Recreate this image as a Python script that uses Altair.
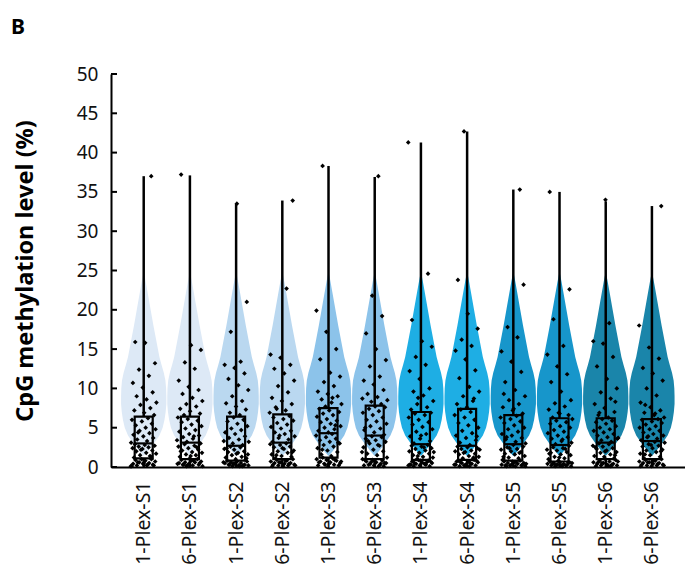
import altair as alt
import pandas as pd

names = ["1-Plex-S1", "6-Plex-S1", "1-Plex-S2", "6-Plex-S2", "1-Plex-S3", "6-Plex-S3",
         "1-Plex-S4", "6-Plex-S4", "1-Plex-S5", "6-Plex-S5", "1-Plex-S6", "6-Plex-S6"]
colors = ["#dde9f6", "#dde9f6", "#bad8f0", "#bad8f0", "#8cc3ea", "#8cc3ea",
          "#1eaee4", "#1eaee4", "#1796cb", "#1796cb", "#1a85aa", "#1a85aa"]

box_min = [0.0] * 12
box_q1 = [1.1, 1.0, 0.8, 1.0, 1.2, 1.0, 0.9, 0.9, 0.8, 0.7, 1.0, 1.0]
box_med = [3.0, 3.1, 2.7, 3.1, 4.3, 4.0, 2.9, 2.7, 2.9, 2.8, 3.1, 3.3]
box_q3 = [6.4, 6.4, 6.4, 6.7, 7.5, 7.8, 7.0, 7.4, 6.6, 6.2, 6.2, 6.1]
box_max = [37.0, 37.1, 33.5, 33.9, 38.3, 36.9, 41.3, 42.7, 35.3, 35.0, 33.8, 33.2]

# violin outline (value level, half-width in category units), same shape for each sample
violin_y = [1.4, 2.0, 3.0, 4.0, 5.0, 6.0, 7.0, 8.0, 9.0, 10.0, 11.0, 12.0, 13.0, 14.0,
            16.0, 18.0, 20.0, 22.0, 23.5, 24.9]
violin_w = [0.0, 0.09, 0.22, 0.34, 0.41, 0.45, 0.475, 0.49, 0.49, 0.485, 0.47, 0.435,
            0.385, 0.34, 0.275, 0.21, 0.15, 0.09, 0.045, 0.0]

pts = [
    [0.1, 0.2, 0.2, 0.3, 0.4, 0.4, 0.5, 0.6, 0.7, 0.8, 0.9, 1.0, 1.0, 0.1, 0.3, 0.6, 0.2, 0.5,
     1.2, 1.4, 1.5, 1.7, 1.8, 2.0, 2.1, 2.3, 2.4, 2.5, 2.6, 2.7, 2.8, 2.9, 1.3, 2.2,
     3.1, 3.3, 3.5, 3.7, 3.9, 4.1, 4.3, 4.6, 4.8, 5.0, 5.3, 5.5, 5.8, 6.0, 6.2, 4.4,
     6.6, 6.9, 7.2, 7.5, 7.9, 8.2, 8.6, 9.0, 9.5, 10.1, 10.7, 11.6, 12.4, 13.2, 15.8, 15.9, 37.0],
    [0.1, 0.1, 0.2, 0.3, 0.3, 0.4, 0.5, 0.6, 0.6, 0.7, 0.8, 0.9, 1.0, 0.2, 0.4, 0.8, 0.3, 0.5,
     1.1, 1.3, 1.5, 1.6, 1.8, 1.9, 2.1, 2.2, 2.4, 2.6, 2.7, 2.9, 3.0, 1.4, 2.0, 2.5,
     3.2, 3.4, 3.6, 3.8, 4.0, 4.2, 4.5, 4.7, 4.9, 5.2, 5.4, 5.7, 5.9, 6.1, 6.3, 3.9,
     6.6, 6.8, 7.1, 7.4, 7.7, 8.0, 8.4, 8.8, 9.3, 9.8, 10.2, 11.0, 12.5, 13.3, 14.9, 15.5, 37.2],
    [0.1, 0.1, 0.2, 0.2, 0.3, 0.3, 0.4, 0.5, 0.5, 0.6, 0.7, 0.7, 0.8, 0.2, 0.4, 0.6, 0.1, 0.3,
     0.9, 1.0, 1.2, 1.3, 1.5, 1.6, 1.8, 1.9, 2.0, 2.2, 2.3, 2.5, 2.6, 1.1, 1.7, 2.4,
     2.8, 3.0, 3.2, 3.5, 3.7, 3.9, 4.2, 4.4, 4.7, 4.9, 5.2, 5.5, 5.8, 6.0, 6.3, 3.3,
     6.6, 6.9, 7.3, 7.7, 8.1, 8.4, 9.0, 9.8, 10.4, 11.2, 11.9, 12.6, 13.0, 13.4, 17.2, 21.0, 33.5],
    [0.1, 0.2, 0.2, 0.3, 0.4, 0.5, 0.5, 0.6, 0.7, 0.8, 0.9, 1.0, 0.1, 0.3, 0.4, 0.6, 0.2, 0.8,
     1.1, 1.3, 1.4, 1.6, 1.8, 2.0, 2.1, 2.3, 2.5, 2.6, 2.8, 2.9, 3.0, 1.5, 1.9, 2.4,
     3.2, 3.5, 3.7, 3.9, 4.2, 4.4, 4.6, 4.9, 5.1, 5.4, 5.6, 5.9, 6.1, 6.3, 6.5, 4.0,
     6.9, 7.2, 7.6, 8.0, 8.4, 8.8, 9.5, 10.3, 11.0, 11.9, 12.5, 13.0, 13.9, 14.3, 22.7, 7.4, 33.9],
    [0.1, 0.2, 0.3, 0.4, 0.5, 0.6, 0.7, 0.8, 0.9, 1.0, 1.1, 1.2, 0.2, 0.4, 0.6, 0.9, 0.3, 0.7,
     1.4, 1.6, 1.9, 2.1, 2.4, 2.6, 2.8, 3.0, 3.2, 3.4, 3.6, 3.8, 4.0, 4.2, 2.2, 3.1,
     4.4, 4.6, 4.8, 5.0, 5.2, 5.5, 5.7, 5.9, 6.1, 6.4, 6.6, 6.8, 7.0, 7.2, 7.4, 5.3,
     7.7, 8.0, 8.2, 8.6, 9.0, 9.3, 9.6, 10.3, 10.8, 11.5, 12.0, 13.7, 15.0, 17.2, 19.9, 8.8, 38.3],
    [0.1, 0.2, 0.2, 0.3, 0.4, 0.5, 0.6, 0.7, 0.8, 0.9, 1.0, 0.1, 0.3, 0.5, 0.7, 0.9, 0.4, 0.6,
     1.2, 1.5, 1.7, 2.0, 2.2, 2.5, 2.7, 3.0, 3.2, 3.4, 3.6, 3.8, 3.9, 1.9, 2.8, 3.3,
     4.1, 4.4, 4.7, 4.9, 5.2, 5.5, 5.8, 6.0, 6.3, 6.6, 6.9, 7.1, 7.4, 7.6, 7.7, 5.0,
     8.0, 8.3, 8.5, 8.9, 9.3, 9.8, 10.5, 11.0, 11.5, 12.8, 13.6, 15.0, 17.0, 19.2, 21.8, 8.7, 37.0],
    [0.1, 0.1, 0.2, 0.3, 0.3, 0.4, 0.5, 0.6, 0.7, 0.8, 0.9, 0.2, 0.4, 0.5, 0.7, 0.8, 0.3, 0.6,
     1.0, 1.2, 1.3, 1.5, 1.7, 1.8, 2.0, 2.1, 2.3, 2.4, 2.6, 2.7, 2.8, 1.4, 1.9, 2.5,
     3.0, 3.3, 3.6, 3.9, 4.2, 4.5, 4.8, 5.1, 5.4, 5.7, 6.0, 6.3, 6.6, 6.8, 6.9, 4.0,
     7.3, 7.6, 8.0, 8.4, 9.1, 9.6, 10.0, 11.2, 12.2, 13.0, 14.0, 15.3, 16.0, 18.7, 24.6, 8.8, 41.3],
    [0.1, 0.1, 0.2, 0.2, 0.3, 0.4, 0.5, 0.6, 0.7, 0.8, 0.9, 0.2, 0.3, 0.5, 0.6, 0.8, 0.4, 0.7,
     1.0, 1.1, 1.3, 1.4, 1.6, 1.7, 1.9, 2.0, 2.1, 2.3, 2.4, 2.5, 2.6, 1.2, 1.8, 2.2,
     2.8, 3.1, 3.4, 3.7, 4.0, 4.3, 4.6, 5.0, 5.3, 5.6, 6.0, 6.3, 6.6, 7.0, 7.3, 3.9,
     7.6, 8.0, 8.4, 9.0, 9.6, 10.2, 11.3, 12.3, 13.7, 14.8, 15.4, 16.2, 17.6, 19.5, 23.8, 8.7, 42.7],
    [0.1, 0.1, 0.2, 0.2, 0.3, 0.3, 0.4, 0.5, 0.5, 0.6, 0.7, 0.8, 0.2, 0.4, 0.6, 0.1, 0.3, 0.7,
     0.9, 1.1, 1.2, 1.4, 1.6, 1.7, 1.9, 2.0, 2.2, 2.3, 2.5, 2.6, 2.8, 1.3, 1.8, 2.4,
     3.0, 3.2, 3.5, 3.7, 4.0, 4.2, 4.5, 4.8, 5.0, 5.3, 5.6, 5.8, 6.1, 6.3, 6.5, 3.8,
     6.8, 7.2, 7.6, 8.0, 8.5, 9.0, 9.8, 10.8, 12.1, 13.4, 14.7, 16.5, 17.8, 23.2, 7.4, 9.3, 35.3],
    [0.1, 0.1, 0.2, 0.2, 0.3, 0.3, 0.4, 0.4, 0.5, 0.6, 0.6, 0.7, 0.2, 0.3, 0.5, 0.1, 0.4, 0.6,
     0.8, 1.0, 1.1, 1.3, 1.5, 1.6, 1.8, 1.9, 2.1, 2.2, 2.4, 2.5, 2.7, 1.2, 1.7, 2.3,
     2.9, 3.1, 3.3, 3.6, 3.8, 4.0, 4.3, 4.5, 4.7, 5.0, 5.2, 5.5, 5.7, 5.9, 6.1, 3.5,
     6.3, 6.6, 6.9, 7.3, 7.7, 8.1, 8.5, 9.6, 10.8, 11.8, 12.8, 14.3, 15.4, 18.8, 22.6, 6.8, 35.0],
    [0.1, 0.2, 0.2, 0.3, 0.4, 0.4, 0.5, 0.6, 0.7, 0.8, 0.9, 1.0, 0.1, 0.3, 0.5, 0.7, 0.2, 0.6,
     1.1, 1.3, 1.4, 1.6, 1.8, 1.9, 2.1, 2.3, 2.4, 2.6, 2.7, 2.9, 3.0, 1.5, 2.0, 2.5,
     3.2, 3.4, 3.6, 3.8, 4.0, 4.2, 4.4, 4.6, 4.8, 5.0, 5.2, 5.5, 5.7, 5.9, 6.1, 3.7,
     6.3, 6.6, 7.0, 7.5, 8.0, 8.7, 9.5, 10.0, 11.2, 12.8, 14.0, 15.7, 16.0, 18.3, 6.9, 8.3, 34.0],
    [0.1, 0.2, 0.2, 0.3, 0.4, 0.5, 0.5, 0.6, 0.7, 0.8, 0.9, 1.0, 0.1, 0.3, 0.4, 0.6, 0.2, 0.8,
     1.1, 1.3, 1.5, 1.7, 1.9, 2.1, 2.2, 2.4, 2.6, 2.7, 2.9, 3.1, 3.2, 1.6, 2.0, 2.8,
     3.4, 3.6, 3.8, 4.0, 4.2, 4.4, 4.6, 4.8, 5.0, 5.2, 5.4, 5.6, 5.8, 6.0, 6.1, 3.9,
     6.3, 6.6, 6.9, 7.2, 7.6, 8.2, 9.1, 10.0, 11.0, 11.9, 12.6, 13.8, 15.2, 18.0, 6.8, 7.9, 33.2],
]

y_ticks = [0, 5, 10, 15, 20, 25, 30, 35, 40, 45, 50]

# ---- tables ----
box_df = pd.DataFrame({"idx": list(range(12)), "name": names, "col": colors,
                       "mn": box_min, "q1": box_q1, "med": box_med, "q3": box_q3, "mx": box_max})
vio_rows = []
for i in range(12):
    for yv, wv in zip(violin_y, violin_w):
        vio_rows.append({"idx": i, "col": colors[i], "vy": yv, "w": wv})
vio_df = pd.DataFrame(vio_rows)
pt_rows = []
for i in range(12):
    for k, v in enumerate(pts[i]):
        pt_rows.append({"idx": i, "k": k, "value": v})
pt_df = pd.DataFrame(pt_rows)
tick_df = pd.DataFrame({"t": y_ticks})

XD = [-0.708, 11.716]
xs = alt.Scale(domain=XD, nice=False, zero=False)
ys = alt.Scale(domain=[0, 50], nice=False, zero=False)
FONT = "Noto Sans"
label_expr = "split('" + ",".join(names) + "', ',')[datum.value]"

yaxis = alt.Axis(
    values=y_ticks, tickSize=0, labelPadding=13, labelFontSize=19, labelFont=FONT,
    labelColor="#111111", domainColor="black", domainWidth=2, grid=False,
    title="CpG methylation level (%)", titleFont=FONT, titleFontSize=23.5,
    titleFontWeight="bold", titleColor="black", titleX=-86, titleY=196.5,
    titleAngle=270, titleBaseline="middle")
xaxis = alt.Axis(
    values=list(range(12)), labelExpr=label_expr, tickSize=0,
    labelAngle=-90, labelPadding=14, labelFontSize=19.5, labelFont=FONT,
    labelColor="#111111", domainColor="black", domainWidth=2, grid=False, title="")

violin = alt.Chart(vio_df).transform_calculate(
    xl="datum.idx - datum.w", xr="datum.idx + datum.w"
).mark_area(orient="horizontal").encode(
    y=alt.Y("vy:Q", scale=ys, axis=yaxis),
    x=alt.X("xl:Q", scale=xs, axis=xaxis),
    x2="xr:Q",
    color=alt.Color("col:N", scale=None),
    detail="idx:N",
)

ticks = alt.Chart(tick_df).mark_rule(color="black", strokeWidth=2).encode(
    y=alt.Y("t:Q", scale=ys, axis=yaxis), x=alt.value(0), x2=alt.value(6))

wlow = alt.Chart(box_df).mark_rule(color="black", strokeWidth=2.5).encode(
    x=alt.X("idx:Q", scale=xs, axis=xaxis), y=alt.Y("mn:Q", scale=ys, axis=yaxis), y2="q1:Q")
whigh = alt.Chart(box_df).mark_rule(color="black", strokeWidth=2.5).encode(
    x=alt.X("idx:Q", scale=xs, axis=xaxis), y=alt.Y("q3:Q", scale=ys, axis=yaxis), y2="mx:Q")

boxbase = alt.Chart(box_df).transform_calculate(bl="datum.idx - 0.195", br="datum.idx + 0.195")
box = boxbase.mark_rect(fillOpacity=0, stroke="black", strokeWidth=2.2).encode(
    x=alt.X("bl:Q", scale=xs, axis=xaxis), x2="br:Q",
    y=alt.Y("q1:Q", scale=ys, axis=yaxis), y2="q3:Q")
med = boxbase.mark_rule(color="black", strokeWidth=2.2).encode(
    x=alt.X("bl:Q", scale=xs, axis=xaxis), x2="br:Q",
    y=alt.Y("med:Q", scale=ys, axis=yaxis))

points = alt.Chart(pt_df).transform_calculate(
    px="datum.idx + ((datum.k * 0.6180339887 + datum.idx * 0.37) % 1 - 0.5) * 0.56"
).mark_point(shape="diamond", filled=True, size=22, color="black", opacity=1).encode(
    y=alt.Y("value:Q", scale=ys, axis=yaxis),
    x=alt.X("px:Q", scale=xs, axis=xaxis),
)

chart = alt.layer(violin, ticks, wlow, whigh, box, med, points).properties(
    width=574, height=393,
    autosize=alt.AutoSizeParams(type="none"),
    padding={"left": 103, "top": 66, "right": 0, "bottom": 105},
    title=alt.Title("B", anchor="start", frame="group", dx=-100, offset=27,
                    fontSize=21, font=FONT, fontWeight="bold", color="black"),
).configure_view(stroke=None)

chart.save("out.html", embed_options={"renderer": "svg", "actions": False})
